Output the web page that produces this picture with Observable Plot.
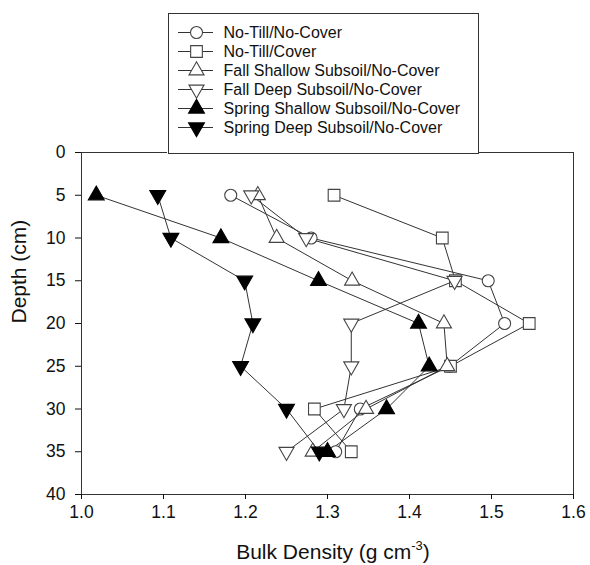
<!DOCTYPE html>
<html><head><meta charset="utf-8">
<script src="https://cdn.jsdelivr.net/npm/d3@7"></script>
<script src="https://cdn.jsdelivr.net/npm/@observablehq/plot@0.6"></script>
<style>
body{margin:0;background:#fff;}
#wrap{position:relative;width:590px;height:565px;}
</style></head><body><div id="wrap"></div>
<script>
// ---- data ----
const depths = [5, 10, 15, 20, 25, 30, 35];
const seriesNames = [
  "No-Till/No-Cover",
  "No-Till/Cover",
  "Fall Shallow Subsoil/No-Cover",
  "Fall Deep Subsoil/No-Cover",
  "Spring Shallow Subsoil/No-Cover",
  "Spring Deep Subsoil/No-Cover"
];
const noTillNoCover       = [1.182, 1.280, 1.496, 1.516, 1.449, 1.340, 1.310];
const noTillCover         = [1.308, 1.440, 1.456, 1.546, 1.450, 1.284, 1.329];
const fallShallowNoCover  = [1.215, 1.238, 1.330, 1.442, 1.446, 1.347, 1.282];
const fallDeepNoCover     = [1.207, 1.274, 1.455, 1.329, 1.329, 1.320, 1.250];
const springShallowNoCover= [1.018, 1.170, 1.289, 1.411, 1.424, 1.372, 1.300];
const springDeepNoCover   = [1.093, 1.109, 1.199, 1.209, 1.194, 1.250, 1.290];
const seriesValues = [noTillNoCover, noTillCover, fallShallowNoCover, fallDeepNoCover, springShallowNoCover, springDeepNoCover];
const xTicks = [1.0, 1.1, 1.2, 1.3, 1.4, 1.5, 1.6];
const yTicks = [0, 5, 10, 15, 20, 25, 30, 35, 40];

// ---- symbols ----
const sqrt3 = Math.sqrt(3);
const triangleDown = {
  draw(ctx, size) {
    const y = -Math.sqrt(size / (sqrt3 * 3));
    ctx.moveTo(0, -y * 2);
    ctx.lineTo(-sqrt3 * y, y);
    ctx.lineTo(sqrt3 * y, y);
    ctx.closePath();
  }
};
const styles = [
  {symbol: "circle", r: 6.0, fill: "white", stroke: "#444"},
  {symbol: "square", r: 6.6, fill: "white", stroke: "#444"},
  {symbol: "triangle", r: 5.6, fill: "white", stroke: "#444"},
  {symbol: triangleDown, r: 5.6, fill: "white", stroke: "#444"},
  {symbol: "triangle", r: 5.9, fill: "black", stroke: "black"},
  {symbol: triangleDown, r: 5.9, fill: "black", stroke: "black"}
];

const rows = seriesNames.flatMap((s, i) => depths.map((d, j) => ({series: s, depth: d, bd: seriesValues[i][j]})));

const font = "'Liberation Sans', Arial, sans-serif";
const ink = "#111";

const lineMarks = seriesNames.map(s =>
  Plot.line(rows.filter(r => r.series === s), {x: "bd", y: "depth", stroke: "#333", strokeWidth: 1}));
const dotMarks = seriesNames.map((s, i) =>
  Plot.dot(rows.filter(r => r.series === s), {x: "bd", y: "depth", symbol: styles[i].symbol, r: styles[i].r,
    fill: styles[i].fill, stroke: styles[i].stroke, strokeWidth: 1.1}));

const plot = Plot.plot({
  width: 590, height: 565,
  marginLeft: 81, marginRight: 17, marginTop: 152, marginBottom: 71,
  style: {fontFamily: font, fontSize: "17px", color: ink, background: "white"},
  x: {domain: [1.0, 1.6]},
  y: {domain: [0, 40], reverse: true},
  marks: [
    Plot.frame({stroke: "#333", strokeWidth: 1}),
    Plot.axisX({ticks: xTicks, tickFormat: d3.format(".1f"), tickSize: 5, tickPadding: 6, label: null, fontSize: 17.5}),
    Plot.axisY({ticks: yTicks, tickSize: 6, tickPadding: 10, label: null, fontSize: 17.5}),
    ...lineMarks,
    ...dotMarks,
    Plot.text(["Depth (cm)"], {frameAnchor: "left", text: d => d, rotate: -90, dx: -62, fontSize: 21, fill: ink, lineAnchor: "middle"})
  ]
});
document.getElementById("wrap").appendChild(plot);

// x-axis title with superscript
const svg = d3.select(plot);
const t = svg.append("text")
  .attr("x", 333).attr("y", 559)
  .attr("text-anchor", "middle")
  .attr("font-family", font).attr("font-size", 21).attr("fill", ink);
t.append("tspan").text("Bulk Density (g cm");
t.append("tspan").attr("font-size", 13).attr("dy", -9).text("-3");
t.append("tspan").attr("dy", 9).text(")");

// ---- legend ----
const legendDots = seriesNames.map((s, i) =>
  Plot.dot([s], {x: () => 29, y: d => d, symbol: styles[i].symbol, r: styles[i].r,
    fill: styles[i].fill, stroke: styles[i].stroke, strokeWidth: 1.1}));
const legend = Plot.plot({
  width: 312, height: 142, margin: 1,
  style: {fontFamily: font, fontSize: "16px", color: ink, background: "white"},
  x: {domain: [1, 311], range: [1, 311], axis: null},
  y: {type: "point", domain: seriesNames, range: [20, 115], padding: 0, axis: null},
  marks: [
    Plot.frame({stroke: "#333", strokeWidth: 1}),
    Plot.ruleY(seriesNames, {y: d => d, x1: 11, x2: 46, stroke: "#333", strokeWidth: 1}),
    ...legendDots,
    Plot.text(seriesNames, {y: d => d, x: () => 56, text: d => d, textAnchor: "start", fontSize: 16, fill: ink})
  ]
});
legend.style.position = "absolute";
legend.style.left = "167px";
legend.style.top = "12px";
document.getElementById("wrap").appendChild(legend);
</script>
</body></html>
